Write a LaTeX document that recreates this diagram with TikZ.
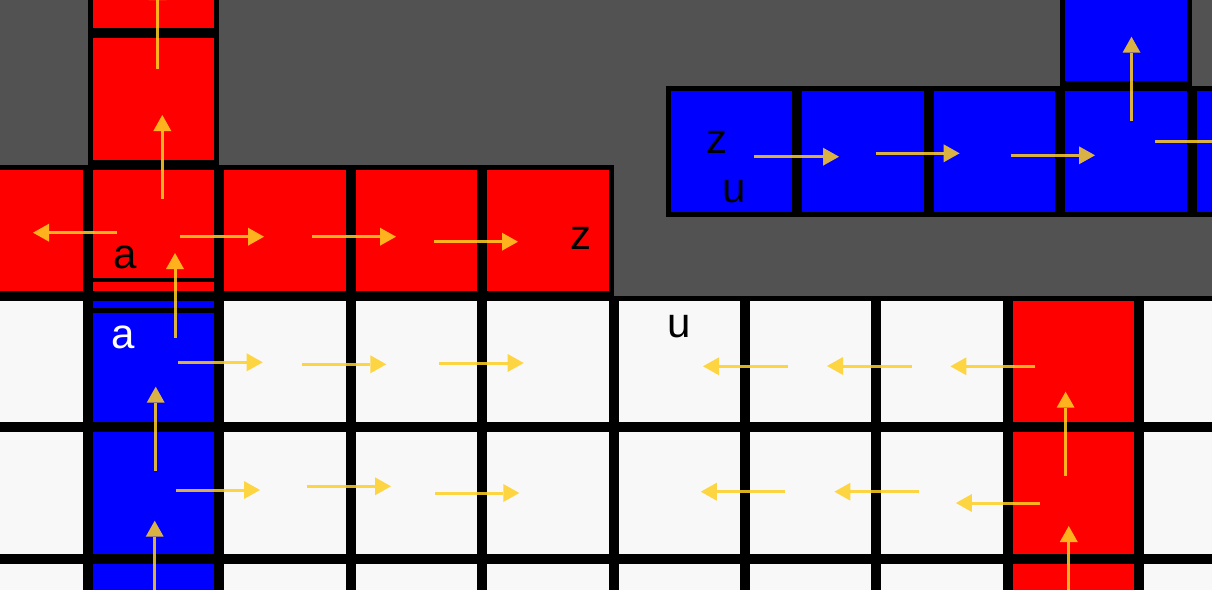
\documentclass[tikz,border=0pt]{standalone}
\usepackage{fontspec}
\setmainfont{Liberation Sans}
\usetikzlibrary{arrows.meta}
\definecolor{bggrey}{HTML}{525252}
\definecolor{cellwhite}{HTML}{F8F8F8}
\definecolor{cellred}{HTML}{FF0000}
\definecolor{cellblue}{HTML}{0000FF}
\definecolor{arrowgold}{RGB}{255,208,36}
\tikzset{
  cell/.style={draw=black, line width=5pt, minimum size=126.4pt, inner sep=0pt, outer sep=0pt, anchor=center},
  flow/.style={draw=arrowgold, line width=3pt, draw opacity=0.85, fill opacity=0.85,
    -{Triangle[length=16pt,width=18pt,line width=0pt,fill=arrowgold]}},
  lbl/.style={inner sep=0pt, font=\fontsize{42}{42}\selectfont},
  sep/.style={draw=black}
}
\begin{document}
\begin{tikzpicture}[x=1pt,y=-1pt]
\useasboundingbox (0,0) rectangle (1212,589);
\begin{scope}
\clip (0,0) rectangle (1212,589);
\fill[bggrey] (0,0) rectangle (1212,589);
% bottom grid
\foreach \i in {-1,...,8}{
  \foreach \j in {0,1,2}{
    \pgfmathsetmacro{\cx}{88+131.4*\i+65.7}
    \pgfmathsetmacro{\cy}{296+131.4*\j+65.7}
    \ifnum\i=0
      \node[cell, fill=cellblue] (w\i-\j) at (\cx,\cy) {};
    \else\ifnum\i=7
      \node[cell, fill=cellred] (w\i-\j) at (\cx,\cy) {};
    \else
      \node[cell, fill=cellwhite] (w\i-\j) at (\cx,\cy) {};
    \fi\fi
  }
}
% red group
\foreach \i in {-1,...,3}{
  \pgfmathsetmacro{\cx}{88+131.4*\i+65.7}
  \node[cell, fill=cellred] (r\i) at (\cx,230.3) {};
}
\node[cell, fill=cellred] (ru1) at (153.7,98.9) {};
\node[cell, fill=cellred] (ru2) at (153.7,-32.5) {};
% blue group
\foreach \i in {0,...,4}{
  \pgfmathsetmacro{\cx}{666+131.4*\i+65.7}
  \node[cell, fill=cellblue] (b\i) at (\cx,151.2) {};
}
\node[cell, fill=cellblue] (bu) at (1125.9,19.8) {};
% extra separator lines in the "a" cells
\draw[sep, line width=4pt] (r0.west |- 0,280.3) -- (r0.east |- 0,280.3);
\draw[sep, line width=5pt] (w0-0.west |- 0,310.2) -- (w0-0.east |- 0,310.2);
% arrows: red group
\draw[flow] (157.7,69) -- (157.7,-16);
\draw[flow] (162.3,199) -- (162.3,115);
\draw[flow] (117,232.7) -- (33,232.7);
\draw[flow] (179.7,236.7) -- (264,236.7);
\draw[flow] (312,236.7) -- (396,236.7);
\draw[flow] (434,241.7) -- (518,241.7);
\draw[flow] (175,337.7) -- (175,253);
% arrows: blue group
\draw[flow] (754,156.7) -- (839,156.7);
\draw[flow] (875.5,153.3) -- (959.6,153.3);
\draw[flow] (1010.7,155.3) -- (1095,155.3);
\draw[flow] (1131.5,121) -- (1131.5,36.7);
\draw[flow] (1155.4,141.7) -- (1240,141.7);
% arrows: bottom grid, left part
\draw[flow] (178,362.3) -- (262.7,362.3);
\draw[flow] (302,364.3) -- (386.3,364.3);
\draw[flow] (439,363) -- (523.7,363);
\draw[flow] (155.7,471) -- (155.7,386.7);
\draw[flow] (175.7,490) -- (260,490);
\draw[flow] (306.7,486.3) -- (391,486.3);
\draw[flow] (435,493) -- (519.3,493);
\draw[flow] (154.7,605) -- (154.7,520.7);
% arrows: bottom grid, right part
\draw[flow] (788,366.3) -- (703,366.3);
\draw[flow] (911.7,366) -- (827,366);
\draw[flow] (1035,366.3) -- (950.4,366.3);
\draw[flow] (1065.6,475.7) -- (1065.6,391.7);
\draw[flow] (785,491.7) -- (700.8,491.7);
\draw[flow] (918.75,491.7) -- (834.4,491.7);
\draw[flow] (1040,503) -- (955.9,503);
\draw[flow] (1068.75,610) -- (1068.75,526);
% labels
\node[lbl, text=black] (la1) at (125,257) {a};
\node[lbl, text=white] (la2) at (123.5,337) {a};
\node[lbl, text=black] (lz1) at (581,238) {z};
\node[lbl, text=black] (lz2) at (717,142) {z};
\node[lbl, text=black] (lu1) at (734.5,192) {u};
\node[lbl, text=black] (lu2) at (679,327) {u};
\end{scope}
\end{tikzpicture}
\end{document}
